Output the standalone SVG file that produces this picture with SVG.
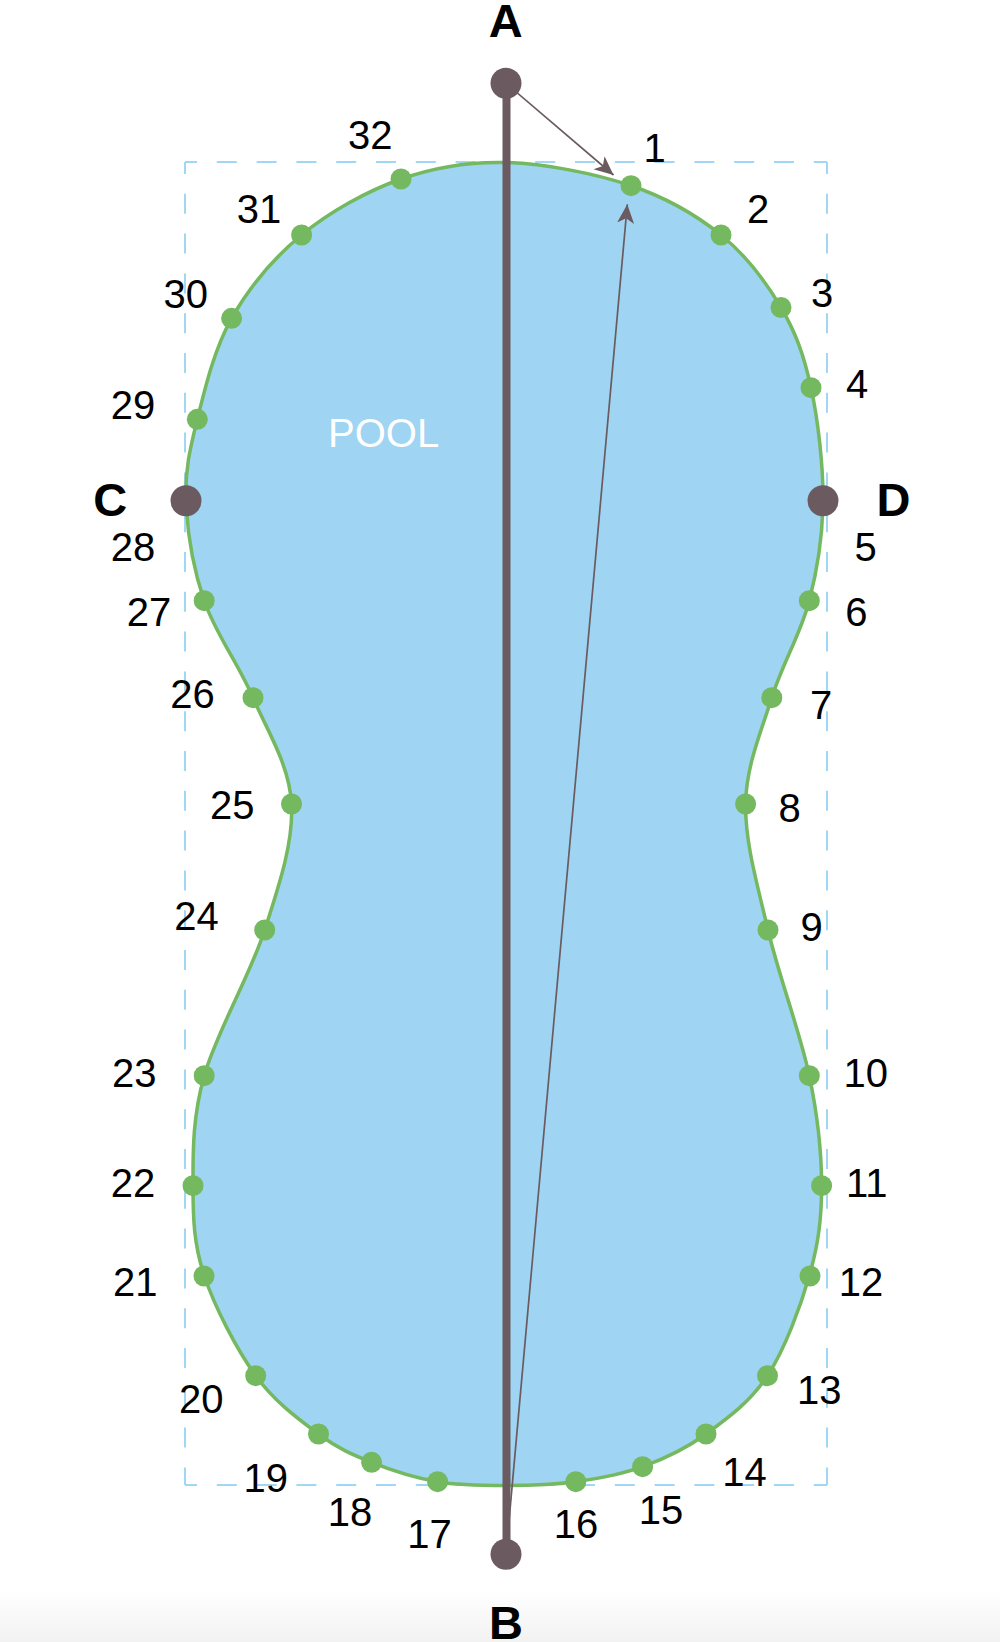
<svg xmlns="http://www.w3.org/2000/svg" width="1000" height="1642" viewBox="0 0 1000 1642">
<defs>
<linearGradient id="bottomFade" x1="0" y1="0" x2="0" y2="1">
<stop offset="0" stop-color="#ffffff"/>
<stop offset="1" stop-color="#f2f2f2"/>
</linearGradient>
<marker id="arrow" markerUnits="userSpaceOnUse" markerWidth="22" markerHeight="20" refX="19" refY="8.5" orient="auto">
<path d="M0,0 L19,8.5 L0,17 L5,8.5 Z" fill="#6b5b60"/>
</marker>
</defs>
<style>
.num{font-family:"Liberation Sans",Arial,Helvetica,sans-serif;font-size:40px;fill:#000;text-anchor:middle}
.big{font-family:"Liberation Sans",Arial,Helvetica,sans-serif;font-size:47px;font-weight:bold;fill:#000;text-anchor:middle}
.pt{fill:#74b85f}
.anchor{fill:#6b5b60}
.dash{stroke:#9fd7f5;stroke-width:2;stroke-dasharray:20 19.8;stroke-dashoffset:8;fill:none}
.conn{stroke:#6b5b60;fill:none}
</style>
<rect x="0" y="0" width="1000" height="1642" fill="#ffffff"/>
<rect x="0" y="1590" width="1000" height="52" fill="url(#bottomFade)"/>

<g id="bounds">
<line class="dash" x1="185" y1="162" x2="827" y2="162"/>
<line class="dash" x1="185" y1="162" x2="185" y2="1485"/>
<line class="dash" x1="827" y1="162" x2="827" y2="1485"/>
<line class="dash" x1="185" y1="1485" x2="827" y2="1485"/>
</g>

<g id="pool">
<path d="M506,162.5 C544.3,163.6 594.7,173.4 630.5,185.5 C666.3,197.6 695.9,214.7 721,235 C746.1,255.3 766,282.1 781,307.5 C796,333 804,355.5 811,387.7 C818,419.9 823.3,465.2 823,500.7 C822.7,536.2 817.8,567.9 809.3,600.7 C800.8,633.5 782.4,663.8 771.8,697.7 C761.2,731.6 746.2,765.3 745.6,804 C745,842.7 757.4,884.7 768,930 C778.6,975.3 800.4,1033.1 809.3,1075.7 C818.2,1118.3 821.6,1152.4 821.6,1185.7 C821.6,1219 818.4,1243.8 809.4,1275.5 C800.4,1307.2 784.7,1349.3 767.5,1375.7 C750.3,1402.1 726.8,1418.8 706,1434 C685.2,1449.2 664.3,1458.8 642.6,1466.7 C620.9,1474.7 598.6,1478.6 575.8,1481.7 C553,1484.8 529,1485.5 506,1485.5 C483,1485.5 460,1485.6 437.6,1481.7 C415.2,1477.8 391.5,1470.3 371.6,1462.3 C351.8,1454.4 337.8,1448.4 318.5,1434 C299.2,1419.6 274.8,1402.1 255.7,1375.7 C236.7,1349.3 214.7,1307.2 204.2,1275.5 C193.8,1243.8 193,1219 193,1185.7 C193,1152.4 192.3,1118.3 204.2,1075.7 C216.2,1033.1 250.2,975.3 264.7,930 C279.3,884.7 293.5,842.7 291.5,804 C289.6,765.3 267.6,731.6 253,697.7 C238.5,663.8 215.4,633.5 204.2,600.7 C193,567.9 187.2,530.9 186,500.7 C184.9,470.5 189.7,449.7 197.3,419.3 C204.9,388.9 214.2,349 231.6,318.3 C249,287.6 273.4,258.2 301.6,235 C329.8,211.8 366.9,191.1 401,179 C435.1,166.9 467.8,161.4 506,162.5 Z" fill="#9fd4f2" stroke="#74b85f" stroke-width="3.5"/>
<text x="383.6" y="446.7" font-family="'Liberation Sans',Arial,Helvetica,sans-serif" font-size="40" fill="#ffffff" text-anchor="middle">POOL</text>
</g>

<g id="connectors">
<line class="conn" x1="506.5" y1="83.3" x2="506.5" y2="1554.3" stroke-width="8"/>
<line class="conn" x1="506" y1="83.3" x2="613.5" y2="175" stroke-width="1.7" marker-end="url(#arrow)"/>
<line class="conn" x1="506" y1="1554.3" x2="627.3" y2="204.3" stroke-width="1.7" marker-end="url(#arrow)"/>
</g>

<g id="node-A"><circle class="anchor" cx="506" cy="83.3" r="15.5"/><text class="big" x="505.8" y="37.3">A</text></g>
<g id="node-B"><circle class="anchor" cx="506" cy="1554.3" r="15.5"/><text class="big" x="506" y="1639">B</text></g>
<g id="node-C"><circle class="anchor" cx="186" cy="500.7" r="15.5"/><text class="big" x="110.3" y="516">C</text></g>
<g id="node-D"><circle class="anchor" cx="823" cy="500.7" r="15.5"/><text class="big" x="893.4" y="516">D</text></g>

<g id="point-1"><circle class="pt" cx="631" cy="185.7" r="10.5"/><text class="num" x="654.7" y="161.7">1</text></g>
<g id="point-2"><circle class="pt" cx="721" cy="235" r="10.5"/><text class="num" x="758" y="223.3">2</text></g>
<g id="point-3"><circle class="pt" cx="781" cy="307.5" r="10.5"/><text class="num" x="822" y="307">3</text></g>
<g id="point-4"><circle class="pt" cx="811" cy="387.7" r="10.5"/><text class="num" x="857" y="398.3">4</text></g>
<g id="point-5"><text class="num" x="865.7" y="560.5">5</text></g>
<g id="point-6"><circle class="pt" cx="809.3" cy="600.7" r="10.5"/><text class="num" x="856.3" y="625.5">6</text></g>
<g id="point-7"><circle class="pt" cx="771.8" cy="697.7" r="10.5"/><text class="num" x="821" y="719.3">7</text></g>
<g id="point-8"><circle class="pt" cx="745.6" cy="804" r="10.5"/><text class="num" x="789.5" y="822">8</text></g>
<g id="point-9"><circle class="pt" cx="768" cy="930" r="10.5"/><text class="num" x="811.5" y="940.5">9</text></g>
<g id="point-10"><circle class="pt" cx="809.3" cy="1075.7" r="10.5"/><text class="num" x="865.8" y="1086.7">10</text></g>
<g id="point-11"><circle class="pt" cx="821.6" cy="1185.7" r="10.5"/><text class="num" x="866.8" y="1196.7">11</text></g>
<g id="point-12"><circle class="pt" cx="810" cy="1276" r="10.5"/><text class="num" x="860.9" y="1295.7">12</text></g>
<g id="point-13"><circle class="pt" cx="767.5" cy="1375.7" r="10.5"/><text class="num" x="819.2" y="1404">13</text></g>
<g id="point-14"><circle class="pt" cx="706" cy="1434" r="10.5"/><text class="num" x="744.5" y="1485.7">14</text></g>
<g id="point-15"><circle class="pt" cx="642.6" cy="1466.7" r="10.5"/><text class="num" x="661" y="1524.3">15</text></g>
<g id="point-16"><circle class="pt" cx="575.8" cy="1481.7" r="10.5"/><text class="num" x="576" y="1538.3">16</text></g>
<g id="point-17"><circle class="pt" cx="437.6" cy="1481.7" r="10.5"/><text class="num" x="429.6" y="1548.3">17</text></g>
<g id="point-18"><circle class="pt" cx="371.6" cy="1462.3" r="10.5"/><text class="num" x="350" y="1525.7">18</text></g>
<g id="point-19"><circle class="pt" cx="318.5" cy="1434" r="10.5"/><text class="num" x="265.7" y="1492.3">19</text></g>
<g id="point-20"><circle class="pt" cx="255.7" cy="1375.7" r="10.5"/><text class="num" x="201.3" y="1413.3">20</text></g>
<g id="point-21"><circle class="pt" cx="204" cy="1276" r="10.5"/><text class="num" x="135.2" y="1295.7">21</text></g>
<g id="point-22"><circle class="pt" cx="193" cy="1185.7" r="10.5"/><text class="num" x="133" y="1196.7">22</text></g>
<g id="point-23"><circle class="pt" cx="204.2" cy="1075.7" r="10.5"/><text class="num" x="134.3" y="1086.7">23</text></g>
<g id="point-24"><circle class="pt" cx="264.7" cy="930" r="10.5"/><text class="num" x="196.5" y="930">24</text></g>
<g id="point-25"><circle class="pt" cx="291.5" cy="804" r="10.5"/><text class="num" x="232.3" y="819">25</text></g>
<g id="point-26"><circle class="pt" cx="253" cy="697.7" r="10.5"/><text class="num" x="192.5" y="708.3">26</text></g>
<g id="point-27"><circle class="pt" cx="204.2" cy="600.7" r="10.5"/><text class="num" x="149" y="625.7">27</text></g>
<g id="point-28"><text class="num" x="133" y="560.7">28</text></g>
<g id="point-29"><circle class="pt" cx="197.3" cy="419.3" r="10.5"/><text class="num" x="133" y="419.3">29</text></g>
<g id="point-30"><circle class="pt" cx="231.6" cy="318.3" r="10.5"/><text class="num" x="185.7" y="308.3">30</text></g>
<g id="point-31"><circle class="pt" cx="301.6" cy="235" r="10.5"/><text class="num" x="258.9" y="223.3">31</text></g>
<g id="point-32"><circle class="pt" cx="401" cy="179" r="10.5"/><text class="num" x="370.3" y="149">32</text></g>
</svg>
